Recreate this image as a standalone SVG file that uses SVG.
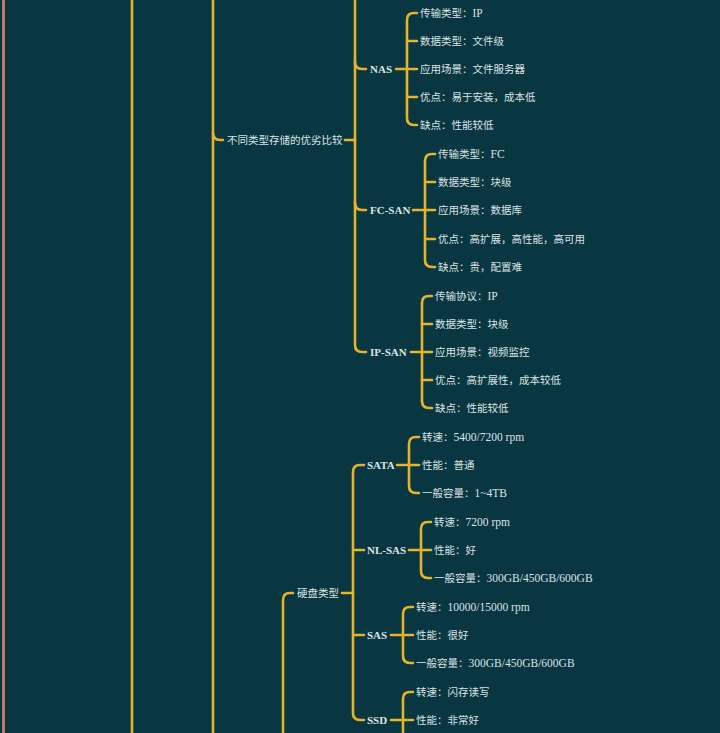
<svg xmlns="http://www.w3.org/2000/svg" width="720" height="733" viewBox="0 0 720 733">
<style>
.c{fill:none;stroke:#e6b32a;stroke-width:2.6;stroke-linecap:round;stroke-linejoin:round}
.p{fill:none;stroke:#c8736c;stroke-width:3}
text{font-family:"Liberation Serif","Noto Sans CJK SC",serif;font-size:10.5px;fill:#dde4e4;dominant-baseline:central}
.b{font-weight:bold;font-size:11px}
.l{font-size:11.5px}
</style>
<rect width="720" height="733" fill="#083641"/>
<g id="connectors">
<path class="p" d="M3.5 0 V733"/>
<path class="c" d="M132 0 V733"/>
<path class="c" d="M213 0 V733"/>
<path class="c" d="M213 133 Q213 140 220 140 H223"/>
<path class="c" d="M345 140 H355"/>
<path class="c" d="M355 0 V345 Q355 352 362 352 H366"/>
<path class="c" d="M355 62 Q355 69 362 69 H366"/>
<path class="c" d="M355 203 Q355 210 362 210 H366"/>
<path class="c" d="M396 69 H417"/>
<path class="c" d="M417 13 H414 Q407 13 407 20 V118 Q407 125 414 125 H417"/>
<path class="c" d="M407 41 H417 M407 97 H417"/>
<path class="c" d="M413 210 H435"/>
<path class="c" d="M435 154 H432 Q425 154 425 161 V260 Q425 267 432 267 H435"/>
<path class="c" d="M425 182 H435 M425 239 H435"/>
<path class="c" d="M411 352 H432"/>
<path class="c" d="M432 296 H429 Q422 296 422 303 V401 Q422 408 429 408 H432"/>
<path class="c" d="M422 324 H432 M422 380 H432"/>
<path class="c" d="M283 733 V600 Q283 593 290 593 H293"/>
<path class="c" d="M342 593 H353"/>
<path class="c" d="M364 465 H360 Q353 465 353 472 V713 Q353 720 360 720 H364"/>
<path class="c" d="M353 550 H364 M353 635 H364"/>
<path class="c" d="M397 465 H419"/>
<path class="c" d="M419 437 H416 Q409 437 409 444 V486 Q409 493 416 493 H419"/>
<path class="c" d="M409 550 H431"/>
<path class="c" d="M431 522 H428 Q421 522 421 529 V571 Q421 578 428 578 H431"/>
<path class="c" d="M391 635 H413"/>
<path class="c" d="M413 607 H410 Q403 607 403 614 V656 Q403 663 410 663 H413"/>
<path class="c" d="M391 720 H413"/>
<path class="c" d="M413 692 H410 Q403 692 403 699 V733"/>
</g>
<g id="n-compare"><text x="227" y="140">不同类型存储的优劣比较</text></g>
<g id="n-nas"><text class="b" x="370" y="69">NAS</text></g>
<g id="n-nas-1"><text x="420" y="13">传输类型：<tspan class="l">IP</tspan></text></g>
<g id="n-nas-2"><text x="420" y="41">数据类型：文件级</text></g>
<g id="n-nas-3"><text x="420" y="69">应用场景：文件服务器</text></g>
<g id="n-nas-4"><text x="420" y="97">优点：易于安装，成本低</text></g>
<g id="n-nas-5"><text x="420" y="125">缺点：性能较低</text></g>
<g id="n-fcsan"><text class="b" x="370" y="210">FC-SAN</text></g>
<g id="n-fc-1"><text x="438" y="154">传输类型：<tspan class="l">FC</tspan></text></g>
<g id="n-fc-2"><text x="438" y="182">数据类型：块级</text></g>
<g id="n-fc-3"><text x="438" y="210">应用场景：数据库</text></g>
<g id="n-fc-4"><text x="438" y="239">优点：高扩展，高性能，高可用</text></g>
<g id="n-fc-5"><text x="438" y="267">缺点：贵，配置难</text></g>
<g id="n-ipsan"><text class="b" x="370" y="352">IP-SAN</text></g>
<g id="n-ip-1"><text x="435" y="296">传输协议：<tspan class="l">IP</tspan></text></g>
<g id="n-ip-2"><text x="435" y="324">数据类型：块级</text></g>
<g id="n-ip-3"><text x="435" y="352">应用场景：视频监控</text></g>
<g id="n-ip-4"><text x="435" y="380">优点：高扩展性，成本较低</text></g>
<g id="n-ip-5"><text x="435" y="408">缺点：性能较低</text></g>
<g id="n-disk"><text x="297" y="593">硬盘类型</text></g>
<g id="n-sata"><text class="b" x="367" y="465">SATA</text></g>
<g id="n-sata-1"><text x="422" y="437">转速：<tspan class="l">5400/7200 rpm</tspan></text></g>
<g id="n-sata-2"><text x="422" y="465">性能：普通</text></g>
<g id="n-sata-3"><text x="422" y="493">一般容量：<tspan class="l">1~4TB</tspan></text></g>
<g id="n-nlsas"><text class="b" x="367" y="550">NL-SAS</text></g>
<g id="n-nlsas-1"><text x="434" y="522">转速：<tspan class="l">7200 rpm</tspan></text></g>
<g id="n-nlsas-2"><text x="434" y="550">性能：好</text></g>
<g id="n-nlsas-3"><text x="434" y="578">一般容量：<tspan class="l">300GB/450GB/600GB</tspan></text></g>
<g id="n-sas"><text class="b" x="367" y="635">SAS</text></g>
<g id="n-sas-1"><text x="416" y="607">转速：<tspan class="l">10000/15000 rpm</tspan></text></g>
<g id="n-sas-2"><text x="416" y="635">性能：很好</text></g>
<g id="n-sas-3"><text x="416" y="663">一般容量：<tspan class="l">300GB/450GB/600GB</tspan></text></g>
<g id="n-ssd"><text class="b" x="367" y="720">SSD</text></g>
<g id="n-ssd-1"><text x="416" y="692">转速：闪存读写</text></g>
<g id="n-ssd-2"><text x="416" y="720">性能：非常好</text></g>
</svg>
